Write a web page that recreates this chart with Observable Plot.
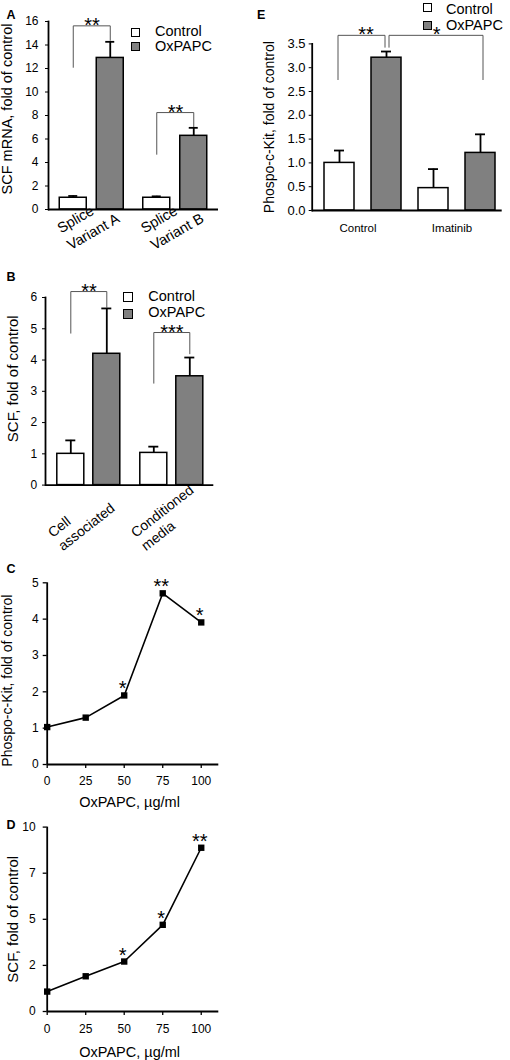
<!DOCTYPE html>
<html><head><meta charset="utf-8">
<script src="https://cdn.jsdelivr.net/npm/d3@7"></script>
<script src="https://cdn.jsdelivr.net/npm/@observablehq/plot@0.6"></script>
<style>
body{margin:0;background:#fff;}
#fig{position:relative;width:510px;height:1060px;font-family:'Liberation Sans',Arial,Helvetica,sans-serif;overflow:hidden;background:#fff;}
.panel{position:absolute;}
.letter{position:absolute;font-weight:bold;font-size:12.5px;line-height:1;}
.leg{position:absolute;font-size:14.5px;line-height:1;white-space:nowrap;}
.sw{position:absolute;box-sizing:border-box;border:1.2px solid #000;}
</style></head><body><div id="fig"></div>
<script>
const FONT = "'Liberation Sans', Arial, Helvetica, sans-serif";
const treatments = ["Control", "OxPAPC"];
const fills = ["#ffffff", "#808080"];

// ---- Panel A ----
const aGroups = ["Splice\nVariant A", "Splice\nVariant B"];
const aControl = [1.0, 1.0];
const aControlErr = [0.15, 0.12];
const aOx = [12.9, 6.27];
const aOxErr = [1.37, 0.68];
const aTicks = [0, 2, 4, 6, 8, 10, 12, 14, 16];
const aSigLabels = ["**", "**"];
const aSigLow = [12.1, 4.7];
const aSigTop = [15.63, 8.25];
const aSigHigh = [14.4, 7.05];
const aYLabel = "SCF mRNA, fold of control";

// ---- Panel B ----
const bGroups = ["Cell\nassociated", "Conditioned\nmedia"];
const bControl = [1.0, 1.03];
const bControlErr = [0.43, 0.2];
const bOx = [4.2, 3.48];
const bOxErr = [1.45, 0.6];
const bTicks = [0, 1, 2, 3, 4, 5, 6];
const bSigLabels = ["**", "***"];
const bSigLow = [4.86, 3.26];
const bSigTop = [6.19, 4.88];
const bSigHigh = [5.68, 4.2];
const bYLabel = "SCF, fold of control";

// ---- Panels C and D ----
const doses = [0, 25, 50, 75, 100];
const doseAxisMax = 111.4;
const doseLabel = "OxPAPC, µg/ml";
const cValues = [1.03, 1.29, 1.9, 4.71, 3.91];
const cStars = ["", "", "*", "**", "*"];
const cTicks = [0, 1, 2, 3, 4, 5];
const cYLabel = "Phospo-c-Kit, fold of control";
const dValues = [1.08, 1.91, 2.71, 4.70, 8.88];
const dStars = ["", "", "*", "*", "**"];
const dTicks = [0, 2.5, 5, 7.5, 10];
const dYLabel = "SCF, fold of control";

// ---- Panel E ----
const eGroups = ["Control", "Imatinib"];
const eControl = [1.0, 0.47];
const eControlErr = [0.26, 0.4];
const eOx = [3.21, 1.21];
const eOxErr = [0.13, 0.39];
const eTicks = [0, 0.5, 1, 1.5, 2, 2.5, 3, 3.5];
const eYLabel = "Phospo-c-Kit, fold of control";
const eSig = [
  {label: "**", from: "Control|Control", to: "Control|OxPAPC", low: 2.75, top: 3.68, high: 3.43},
  {label: "*", from: "Control|OxPAPC", to: "Imatinib|OxPAPC", low: 3.43, top: 3.68, high: 2.75}
];

// ---------- helpers ----------
const baseStyle = {fontFamily: FONT, fontSize: "12px", background: "none", overflow: "visible", color: "black"};

function barRows(groups, ctrl, ctrlErr, ox, oxErr) {
  return groups.flatMap((g, i) => [
    {group: g, treat: "Control", key: g + "|Control", value: ctrl[i], top: ctrl[i] + ctrlErr[i]},
    {group: g, treat: "OxPAPC", key: g + "|OxPAPC", value: ox[i], top: ox[i] + oxErr[i]}
  ]);
}

function groupedPanel(o) {
  const rows = barRows(o.groups, o.ctrl, o.ctrlErr, o.ox, o.oxErr);
  const keys = rows.map(d => d.key);
  const step = (o.width - o.ml - o.mr) / (keys.length - o.pi + 2 * o.po);
  const th = -o.labelRotate * Math.PI / 180;
  const lh = o.labelSize * o.labelLH;
  const marks = [];
  o.groups.forEach((g, i) => {
    const sh = o.shifts[i];
    const gr = rows.filter(d => d.group === g);
    const ck = g + "|Control", ok = g + "|OxPAPC";
    const brk = [
      {key: ck, y: o.sigLow[i]}, {key: ck, y: o.sigTop[i]},
      {key: ok, y: o.sigTop[i]}, {key: ok, y: o.sigHigh[i]}
    ];
    marks.push(
      Plot.barY(gr, {x: "key", y: "value", fill: "treat", stroke: "black", strokeWidth: 1.5, dx: sh}),
      Plot.ruleX(gr, {x: "key", y1: "value", y2: "top", stroke: "black", strokeWidth: 1.8, dx: sh}),
      Plot.tickY(gr, {x: "key", y: "top", stroke: "black", strokeWidth: 1.8, insetLeft: o.capInset, insetRight: o.capInset, dx: sh}),
      Plot.line(brk, {x: "key", y: "y", stroke: "#555", strokeWidth: 1, dx: sh}),
      Plot.text([{key: ck, y: o.sigTop[i], label: o.sigLabels[i]}], {x: "key", y: "y", text: "label",
        fontSize: 20, lineAnchor: "bottom", dy: 6, dx: sh + step / 2}),
      ...g.split("\n").map((t, k) => Plot.text([{key: ck, t}], {x: "key", y: () => 0, text: "t",
        rotate: o.labelRotate, textAnchor: "start", lineAnchor: "top", fontSize: o.labelSize,
        dx: sh + o.labelDx + k * lh * Math.sin(th), dy: o.labelDy + k * lh * Math.cos(th)}))
    );
  });
  return Plot.plot({
    width: o.width, height: o.height,
    marginLeft: o.ml, marginRight: o.mr, marginTop: o.mt, marginBottom: o.mb,
    style: baseStyle,
    x: {domain: keys, paddingInner: o.pi, paddingOuter: o.po, axis: null},
    y: {domain: [0, o.yMax]},
    color: {domain: treatments, range: fills},
    marks: [
      ...marks,
      Plot.ruleY([0], {stroke: "black", strokeWidth: 1.8}),
      Plot.frame({anchor: "left", stroke: "black", strokeWidth: 1.8}),
      Plot.axisY({ticks: o.ticks, tickFormat: d => String(d), tickSize: 3, tickPadding: o.tickPadding, label: null, fontSize: 12}),
      Plot.text([o.yLabel], {frameAnchor: "left", rotate: -90, textAnchor: "middle", lineAnchor: "top",
        dx: o.titleDx, dy: o.titleDy, fontSize: o.titleSize})
    ]
  });
}

function linePanel(o) {
  const rows = doses.map((x, i) => ({dose: x, value: o.values[i], star: o.stars[i]}));
  return Plot.plot({
    width: o.width, height: o.height,
    marginLeft: o.ml, marginRight: o.mr, marginTop: o.mt, marginBottom: o.mb,
    style: baseStyle,
    x: {domain: [0, doseAxisMax]},
    y: {domain: [0, o.yMax]},
    marks: [
      Plot.ruleX([0], {stroke: "black", strokeWidth: 1.8}),
      Plot.ruleY([0], {stroke: "black", strokeWidth: 1.8}),
      Plot.axisY({ticks: o.ticks, tickFormat: o.tickFormat, tickSize: 4, tickPadding: o.tpY, label: null, fontSize: 12, strokeWidth: 1.3}),
      Plot.axisX({ticks: doses, tickSize: 4, tickPadding: o.tpX, label: null, fontSize: 12, strokeWidth: 1.3}),
      Plot.line(rows, {x: "dose", y: "value", stroke: "black", strokeWidth: 1.6}),
      Plot.dot(rows, {x: "dose", y: "value", symbol: "square", r: 3.6, fill: "black"}),
      Plot.text(rows, {x: "dose", y: "value", text: "star", fontSize: 20, lineAnchor: "bottom", dx: -1.5}),
      Plot.text([o.yLabel], {frameAnchor: "left", rotate: -90, textAnchor: "middle", lineAnchor: "top",
        dx: o.titleDx, dy: o.titleDy, fontSize: o.titleSize}),
      Plot.text([doseLabel], {frameAnchor: "bottom", lineAnchor: "middle", dx: o.xtDx, dy: o.xtDy, fontSize: 14.5})
    ]
  });
}

function panelE() {
  const rows = barRows(eGroups, eControl, eControlErr, eOx, eOxErr);
  const keys = rows.map(d => d.key);
  const W = 255, ml = 56.7, mr = 8.3, pi = 0.36, po = 0.2;
  const step = (W - ml - mr) / (keys.length - pi + 2 * po);
  const brk = eSig.flatMap((s, i) => [
    {id: i, key: s.from, y: s.low}, {id: i, key: s.from, y: s.top},
    {id: i, key: s.to, y: s.top}, {id: i, key: s.to, y: s.high}
  ]);
  const stars = eSig.map(s => ({key: s.from, y: s.top, label: s.label,
    off: (keys.indexOf(s.to) - keys.indexOf(s.from)) * step / 2}));
  return Plot.plot({
    width: W, height: 230, marginLeft: ml, marginRight: mr, marginTop: 43.4, marginBottom: 20,
    style: {...baseStyle, fontSize: "13px"},
    x: {domain: keys, paddingInner: pi, paddingOuter: po, align: 0.65, axis: null},
    y: {domain: [0, 3.5]},
    color: {domain: treatments, range: fills},
    marks: [
      Plot.barY(rows, {x: "key", y: "value", fill: "treat", stroke: "black", strokeWidth: 1.5}),
      Plot.ruleX(rows, {x: "key", y1: "value", y2: "top", stroke: "black", strokeWidth: 1.8}),
      Plot.tickY(rows, {x: "key", y: "top", stroke: "black", strokeWidth: 1.8, insetLeft: 10, insetRight: 10}),
      Plot.ruleY([0], {stroke: "black", strokeWidth: 1.8}),
      Plot.frame({anchor: "left", stroke: "black", strokeWidth: 1.8}),
      Plot.axisY({ticks: eTicks, tickFormat: d => d.toFixed(1), tickSize: 3, tickPadding: 3.7, label: null, fontSize: 13}),
      Plot.line(brk.filter(d => d.id === 0), {x: "key", y: "y", stroke: "#555", strokeWidth: 1, dx: -1.5}),
      Plot.line(brk.filter(d => d.id === 1), {x: "key", y: "y", stroke: "#555", strokeWidth: 1, dx: 2.5}),
      ...stars.map(s => Plot.text([s], {x: "key", y: "y", text: "label", fontSize: 20, lineAnchor: "bottom", dy: 6, dx: s.off + 3})),
      Plot.text(eGroups, {x: g => g + "|Control", text: g => g, y: () => 0, lineAnchor: "middle",
        dx: step / 2 - 5, dy: 18, fontSize: 11.5}),
      Plot.text([eYLabel], {frameAnchor: "left", rotate: -90, textAnchor: "middle", lineAnchor: "top",
        dx: -48.4, dy: 0, fontSize: 14})
    ]
  });
}

// ---------- assemble ----------
const fig = document.getElementById("fig");
function place(node, left, top) {
  const d = document.createElement("div");
  d.className = "panel"; d.style.left = left + "px"; d.style.top = top + "px";
  d.appendChild(node); fig.appendChild(d);
}
function html(cls, text, left, top, extra) {
  const d = document.createElement("div");
  d.className = cls; d.textContent = text;
  d.style.left = left + "px"; d.style.top = top + "px";
  if (extra) Object.assign(d.style, extra);
  fig.appendChild(d);
}
function legend(x, y1, y2, size, tx, t1, t2) {
  html("sw", "", x, y1, {width: size + "px", height: size + "px", background: fills[0]});
  html("sw", "", x, y2, {width: size + "px", height: size + "px", background: fills[1]});
  html("leg", treatments[0], tx, t1);
  html("leg", treatments[1], tx, t2);
}

place(groupedPanel({
  groups: aGroups, ctrl: aControl, ctrlErr: aControlErr, ox: aOx, oxErr: aOxErr,
  ticks: aTicks, yMax: 16, yLabel: aYLabel, sigLabels: aSigLabels, sigLow: aSigLow, sigTop: aSigTop, sigHigh: aSigHigh,
  width: 255, height: 260, ml: 48, mr: 37, mt: 21, mb: 51, pi: 0.267, po: 0.4, shifts: [-4.75, 4.75],
  capInset: 9, tickPadding: 7,
  labelRotate: -30, labelDx: -17.5, labelDy: 15, labelSize: 14.5, labelLH: 1.35,
  titleDx: -46.3, titleDy: -6.5, titleSize: 14.5
}), 0, 0);

place(groupedPanel({
  groups: bGroups, ctrl: bControl, ctrlErr: bControlErr, ox: bOx, oxErr: bOxErr,
  ticks: bTicks, yMax: 6, yLabel: bYLabel, sigLabels: bSigLabels, sigLow: bSigLow, sigTop: bSigTop, sigHigh: bSigHigh,
  width: 255, height: 310, ml: 45, mr: 41.7, mt: 37, mb: 85.4, pi: 0.255, po: 0.449, shifts: [-5.2, 5.8],
  capInset: 8.5, tickPadding: 5.3,
  labelRotate: -38, labelDx: -24.3, labelDy: 45, labelSize: 14, labelLH: 1.2,
  titleDx: -38.3, titleDy: -12.5, titleSize: 15
}), 0, 260);

place(linePanel({
  values: cValues, stars: cStars, ticks: cTicks, yMax: 5, tickFormat: d => String(d), yLabel: cYLabel,
  width: 255, height: 250, ml: 46.7, mr: 36.7, mt: 12.3, mb: 56, tpY: 4.5, tpX: 7.5,
  titleDx: -45, titleDy: 7, titleSize: 14, xtDx: -3.5, xtDy: 37.7
}), 0, 570);

place(linePanel({
  values: dValues, stars: dStars, ticks: dTicks, yMax: 10, tickFormat: d => String(Math.floor(d)), yLabel: dYLabel,
  width: 255, height: 240, ml: 46.7, mr: 36.7, mt: 6.6, mb: 49, tpY: 7.5, tpX: 9,
  titleDx: -40, titleDy: 0, titleSize: 15, xtDx: -3.3, xtDy: 40.7
}), 0, 820);

place(panelE(), 255, 0);

legend(130.5, 28, 42, 9, 155, 24.4, 38.9);
legend(123, 291.5, 309, 10, 148.3, 288.7, 305);
legend(422.7, 2.7, 20.7, 9.3, 446, 1.7, 18.4);

html("letter", "A", 6.5, 9.4);
html("letter", "B", 6.5, 271.1);
html("letter", "C", 6.5, 563.4);
html("letter", "D", 6.5, 819.4);
html("letter", "E", 257, 9.4);
</script></body></html>
